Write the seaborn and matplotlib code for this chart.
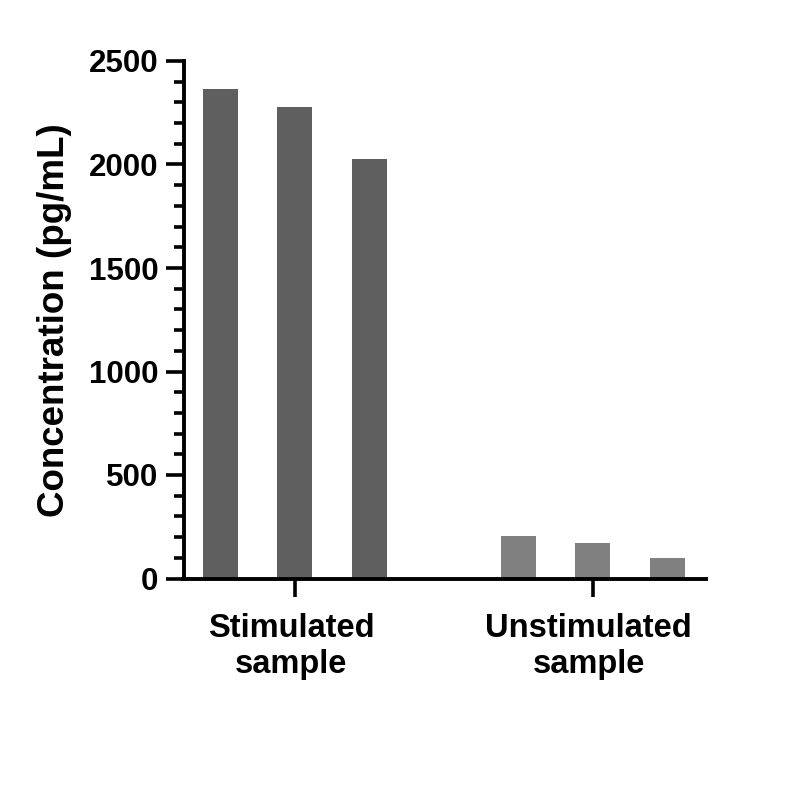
import matplotlib
matplotlib.use("Agg")
import matplotlib.pyplot as plt
import matplotlib.transforms as mtransforms
import seaborn as sns
import pandas as pd
import numpy as np
from matplotlib.ticker import MultipleLocator

groups = ["Stimulated\nsample", "Unstimulated\nsample"]
replicates = ["R1", "R2", "R3"]
stimulated = [2363, 2276, 2025]
unstimulated = [207, 173, 101]
group_colors = ["#5f5f5f", "#808080"]

sns.set_theme(style="white")
plt.rcParams["font.family"] = ["Liberation Sans", "DejaVu Sans"]
plt.rcParams["font.weight"] = "bold"

rows = []
for g, vals in zip(groups, [stimulated, unstimulated]):
    for r, v in zip(replicates, vals):
        rows.append({"group": g, "rep": r, "value": v})
df = pd.DataFrame(rows)

W, H = 809, 810
fig = plt.figure(figsize=(W/100, H/100), dpi=100)
ax = fig.add_axes([183.5/W, (H-578.5)/H, (706-183.5)/W, (578.5-61)/H])

for g, c in zip(groups, group_colors):
    sub = df[df["group"] == g]
    sns.barplot(data=sub, x="group", y="value", hue="rep", order=groups,
                hue_order=replicates, palette=[c]*3, width=0.749, gap=0.529,
                legend=False, ax=ax, errorbar=None, linewidth=0, saturation=1)

ax.set_xlim(-0.3745, 1.3806)
ax.set_ylim(0, 2500)
ax.yaxis.set_major_locator(MultipleLocator(500))
ax.yaxis.set_minor_locator(MultipleLocator(100))

for s in ["top", "right"]:
    ax.spines[s].set_visible(False)
for s in ["left", "bottom"]:
    ax.spines[s].set_linewidth(2.8)
    ax.spines[s].set_color("black")
    ax.spines[s].set_capstyle("projecting")

ax.tick_params(axis="y", which="major", direction="out", length=13, width=2.6,
               labelsize=22.5, pad=5, left=True, color="black")
ax.tick_params(axis="y", which="minor", direction="out", length=7, width=2.6,
               left=True, color="black")
ax.tick_params(axis="x", which="major", direction="out", length=13, width=2.6,
               labelsize=23.5, pad=12, bottom=True, color="black")
shift = mtransforms.ScaledTranslation(-4/100, 0, fig.dpi_scale_trans)
for lab in ax.get_xticklabels() + ax.get_yticklabels():
    lab.set_fontweight("bold")
    lab.set_color("black")
for lab in ax.get_xticklabels():
    lab.set_linespacing(1.2)
    lab.set_transform(lab.get_transform() + shift)

ax.set_xlabel("")
ax.set_ylabel("Concentration (pg/mL)", fontsize=26.5, fontweight="bold",
              color="black", labelpad=12)

fig.savefig("out.png", dpi=100)
